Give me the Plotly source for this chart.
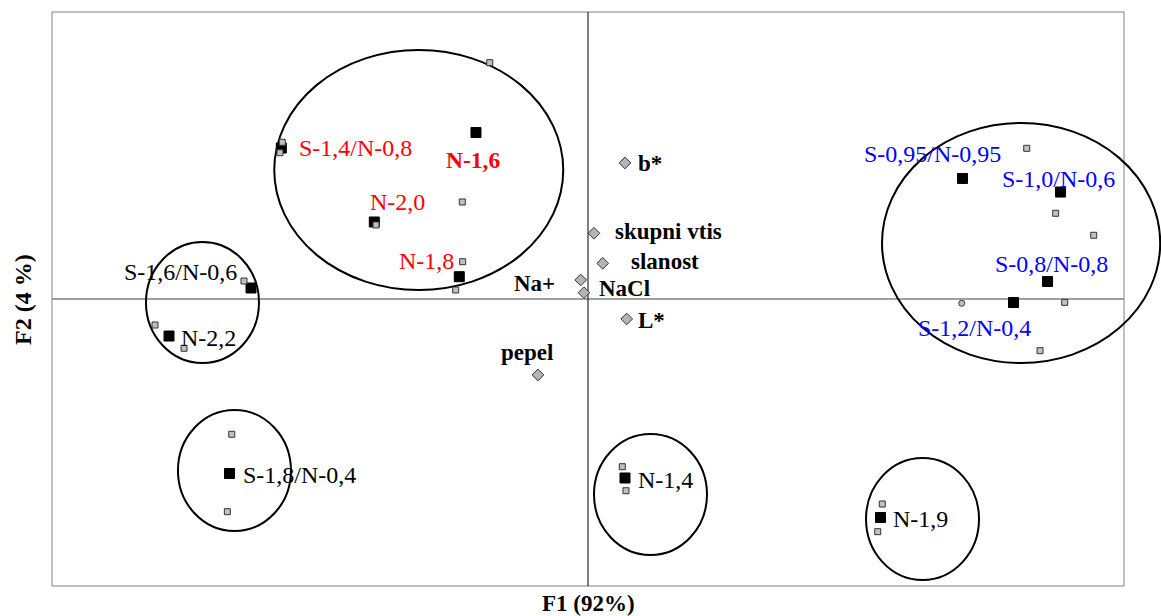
import plotly.graph_objects as go

# ---- PCA scores: sample means (F1, F2) ----
sample_names = ["S-1,4/N-0,8", "N-1,6", "N-2,0", "N-1,8", "S-1,6/N-0,6", "N-2,2",
                "S-1,8/N-0,4", "N-1,4", "N-1,9", "S-0,95/N-0,95", "S-1,0/N-0,6",
                "S-0,8/N-0,8", "S-1,2/N-0,4"]
sample_f1 = [-3.433, -1.254, -2.392, -1.441, -3.772, -4.690, -4.013, 0.414, 3.274,
             4.192, 5.289, 5.144, 4.763]
sample_f2 = [1.578, 1.740, 0.805, 0.233, 0.115, -0.387, -1.824, -1.871, -2.284,
             1.260, 1.118, 0.183, -0.037]

# ---- individual replicates ----
replicate_f1 = [-1.100, -3.422, -3.448, -1.407, -2.373, -1.403, -1.481, -3.851, -4.847,
                -4.522, -3.988, -4.037, 0.384, 0.425, 3.294, 3.243, 4.911, 5.235,
                5.661, 5.336, 5.060]
replicate_f2 = [2.470, 1.638, 1.529, 1.014, 0.774, 0.390, 0.094, 0.188, -0.272,
                -0.515, -1.414, -2.223, -1.753, -2.004, -2.143, -2.432, 1.575, 0.896,
                0.666, -0.035, -0.540]
extra_f1 = [4.183]
extra_f2 = [-0.045]

# ---- variables ----
variable_names = ["b*", "skupni vtis", "slanost", "Na+", "NaCl", "L*", "pepel"]
variable_f1 = [0.414, 0.067, 0.165, -0.082, -0.045, 0.433, -0.560]
variable_f2 = [1.422, 0.687, 0.373, 0.199, 0.066, -0.209, -0.794]

# ---- group outlines (F1 span, F2 span) ----
group_f1 = [(-3.512, -0.277), (-4.948, -3.683), (-4.590, -3.325),
            (0.067, 1.332), (3.112, 4.377), (3.291, 6.405)]
group_f2 = [(0.094, 2.603), (-0.669, 0.596), (-2.425, -1.160),
            (-2.676, -1.411), (-2.937, -1.662), (-0.669, 1.840)]

# ---- styling ----
SERIF = "Liberation Serif, Times New Roman, serif"
RED, BLACK, BLUE = "#ff0000", "#000000", "#0000ff"
sample_colors = [RED, RED, RED, RED, BLACK, BLACK, BLACK, BLACK, BLACK,
                 BLUE, BLUE, BLUE, BLUE]
sample_bold = [False, True] + [False] * 11
# label placement relative to the marker: (anchor, dx px, dy px down)
sample_label_pos = [("left", 18, -0.5), ("center", -2.6, 27.2), ("left", -4.3, -20),
                    ("right", -5, -15.4), ("right", -14, -16.3), ("left", 12.4, 2),
                    ("left", 13.2, 2), ("left", 13.3, 2.5), ("left", 12.8, 1.5),
                    ("left", -98.2, -24), ("left", -58.8, -13), ("left", -52.5, -17.5),
                    ("left", -95.8, 25.5)]
variable_label_pos = [("left", 13.3, 1), ("left", 21, -2), ("left", 28, -2),
                      ("right", -25.7, 4), ("left", 15, -3.7), ("left", 11.6, 1.5),
                      ("center", -11.3, -22.6)]

X_RANGE = [-6.582, 6.414]
Y_RANGE = [-3.3136, 3.1254]
FRAME_X = (-6, 6)
FRAME_Y = (-3, 3)

fig = go.Figure()

fig.add_trace(go.Scatter(
    x=sample_f1, y=sample_f2, mode="markers",
    marker=dict(symbol="square", size=10, color="#000000",
                line=dict(color="#000000", width=1)),
    cliponaxis=False, hoverinfo="skip", showlegend=False))

fig.add_trace(go.Scatter(
    x=replicate_f1, y=replicate_f2, mode="markers",
    marker=dict(symbol="square", size=6, color="#c0c0c0",
                line=dict(color="#333333", width=1)),
    cliponaxis=False, hoverinfo="skip", showlegend=False))

fig.add_trace(go.Scatter(
    x=extra_f1, y=extra_f2, mode="markers",
    marker=dict(symbol="circle", size=6, color="#c0c0c0",
                line=dict(color="#333333", width=1)),
    cliponaxis=False, hoverinfo="skip", showlegend=False))

fig.add_trace(go.Scatter(
    x=variable_f1, y=variable_f2, mode="markers",
    marker=dict(symbol="diamond", size=9, color="#b4b4b4",
                line=dict(color="#333333", width=1)),
    cliponaxis=False, hoverinfo="skip", showlegend=False))

shapes = [
    dict(type="rect", xref="x", yref="y", x0=FRAME_X[0], x1=FRAME_X[1],
         y0=FRAME_Y[0], y1=FRAME_Y[1], line=dict(color="#808080", width=1),
         layer="below"),
    dict(type="line", xref="x", yref="y", x0=FRAME_X[0], x1=FRAME_X[1],
         y0=0, y1=0, line=dict(color="#808080", width=1.3), layer="below"),
    dict(type="line", xref="x", yref="y", x0=0, x1=0,
         y0=FRAME_Y[0], y1=FRAME_Y[1], line=dict(color="#000000", width=1),
         layer="below"),
]
for (gx0, gx1), (gy0, gy1) in zip(group_f1, group_f2):
    shapes.append(dict(type="circle", xref="x", yref="y", x0=gx0, x1=gx1,
                       y0=gy0, y1=gy1, line=dict(color="#000000", width=2),
                       layer="below"))

PAD = 2  # annotation border + padding


def label(text, x, y, pos, color, bold, size):
    anchor, dx, dy = pos
    shift = dx - PAD if anchor == "left" else (dx + PAD if anchor == "right" else dx)
    return dict(text=f"<b>{text}</b>" if bold else text, x=x, y=y,
                xref="x", yref="y", showarrow=False, xanchor=anchor,
                yanchor="middle", xshift=shift, yshift=-dy,
                font=dict(family=SERIF, size=size, color=color))


annotations = []
for name, fx, fy, pos, col, b in zip(sample_names, sample_f1, sample_f2,
                                     sample_label_pos, sample_colors, sample_bold):
    annotations.append(label(name, fx, fy, pos, col, b, 23.5 if b else 24))
for name, fx, fy, pos in zip(variable_names, variable_f1, variable_f2,
                             variable_label_pos):
    annotations.append(label(name, fx, fy, pos, BLACK, True, 23))

annotations.append(dict(text="<b>F1 (92%)</b>", x=0.005, y=-3.185, xref="x", yref="y",
                        showarrow=False, xanchor="center", yanchor="middle",
                        font=dict(family=SERIF, size=23, color=BLACK)))
annotations.append(dict(text="<b>F2 (4 %)</b>", x=-6.325, y=0.0, xref="x", yref="y",
                        showarrow=False, xanchor="center", yanchor="middle",
                        textangle=-90,
                        font=dict(family=SERIF, size=24, color=BLACK)))

fig.update_layout(
    width=1161, height=616,
    margin=dict(l=0, r=0, t=0, b=0),
    paper_bgcolor="white", plot_bgcolor="white",
    xaxis=dict(range=X_RANGE, domain=[0, 1], showgrid=False, zeroline=False,
               showticklabels=False, showline=False, ticks="", fixedrange=True),
    yaxis=dict(range=Y_RANGE, domain=[0, 1], showgrid=False, zeroline=False,
               showticklabels=False, showline=False, ticks="", fixedrange=True),
    shapes=shapes, annotations=annotations, showlegend=False,
    hovermode=False,
)

fig.write_html("out.html", config={"displayModeBar": False})
